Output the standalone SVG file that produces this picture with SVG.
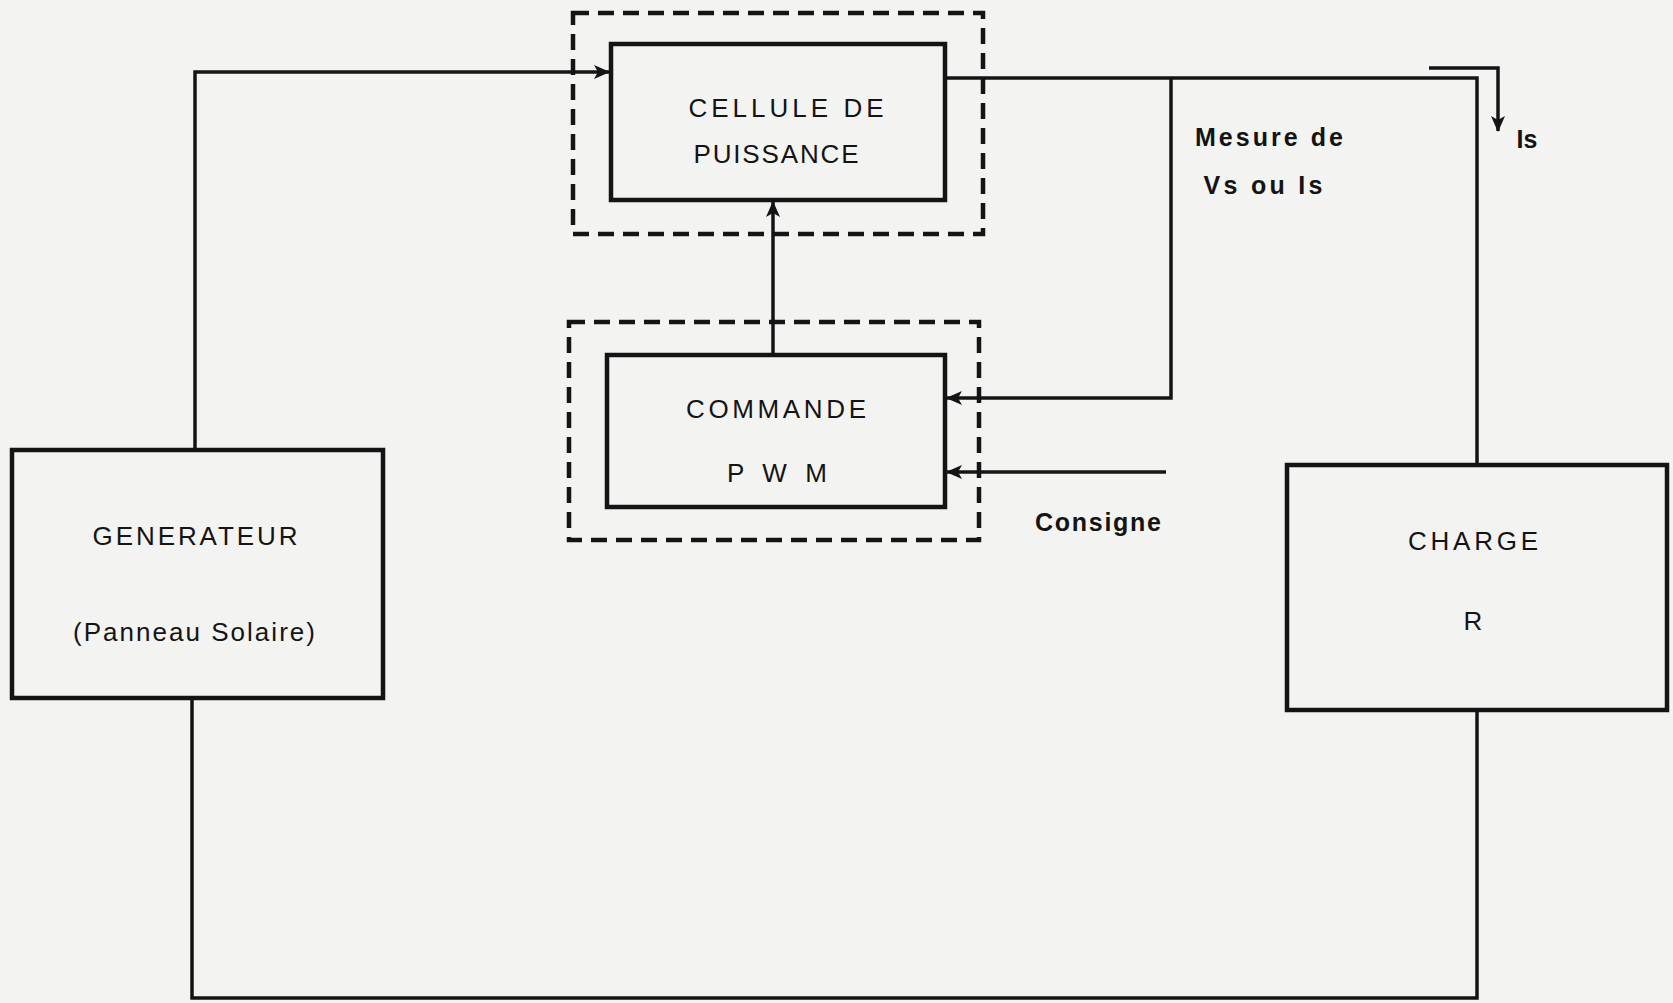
<svg xmlns="http://www.w3.org/2000/svg" width="1673" height="1003" viewBox="0 0 1673 1003">
<style>
.box{fill:none;stroke:#141414;stroke-width:4.5}
.dash{fill:none;stroke:#141414;stroke-width:4.5;stroke-dasharray:16 9}
.wire{fill:none;stroke:#141414;stroke-width:3.5}
.t{font-family:"Liberation Sans",Arial,sans-serif;font-size:26px;fill:#141414;text-anchor:middle}
.b{font-weight:bold;font-size:25px}
</style>
<defs>
<marker id="arr" markerWidth="16" markerHeight="14" refX="15" refY="7" orient="auto" markerUnits="userSpaceOnUse">
<path d="M0,0 L16,7 L0,14 L4,7 Z" fill="#141414"/>
</marker>
</defs>
<rect width="1673" height="1003" fill="#f3f3f1"/>
<g id="cellule">
<rect class="dash" x="573" y="13" width="410" height="221"/>
<rect class="box" x="611" y="44" width="334" height="156"/>
<text class="t" x="786" y="117" textLength="195" lengthAdjust="spacing">CELLULE DE</text>
<text class="t" x="776" y="163" textLength="165" lengthAdjust="spacing">PUISSANCE</text>
</g>
<g id="commande">
<rect class="dash" x="569" y="322" width="410" height="218"/>
<rect class="box" x="607" y="355" width="338" height="152"/>
<text class="t" x="776" y="418" textLength="180" lengthAdjust="spacing">COMMANDE</text>
<text class="t" x="777" y="482" textLength="100" lengthAdjust="spacing">P W M</text>
</g>
<g id="generateur">
<rect class="box" x="12" y="450" width="371" height="248"/>
<text class="t" x="195" y="545" textLength="205" lengthAdjust="spacing">GENERATEUR</text>
<text class="t" x="194" y="641" textLength="242" lengthAdjust="spacing">(Panneau Solaire)</text>
</g>
<g id="charge">
<rect class="box" x="1287" y="465" width="380" height="245"/>
<text class="t" x="1473" y="550" textLength="130" lengthAdjust="spacing">CHARGE</text>
<text class="t" x="1473" y="630">R</text>
</g>
<g id="connectors">
<path class="wire" d="M195,449 V72 H609" marker-end="url(#arr)"/>
<path class="wire" d="M945,78 H1477 V465"/>
<path class="wire" d="M1171,78 V398 H947" marker-end="url(#arr)"/>
<path class="wire" d="M1166,472 H947" marker-end="url(#arr)"/>
<path class="wire" d="M773,355 V202" marker-end="url(#arr)"/>
<path class="wire" d="M192,698 V998 H1477 V710"/>
<path class="wire" d="M1429,68 H1498 V131" marker-end="url(#arr)"/>
</g>
<g id="labels">
<text class="t b" x="1269" y="146" textLength="148" lengthAdjust="spacing">Mesure de</text>
<text class="t b" x="1263" y="194" textLength="119" lengthAdjust="spacing">Vs ou Is</text>
<text class="t b" x="1527" y="148">Is</text>
<text class="t b" x="1098" y="531" textLength="126" lengthAdjust="spacing">Consigne</text>
</g>
</svg>
